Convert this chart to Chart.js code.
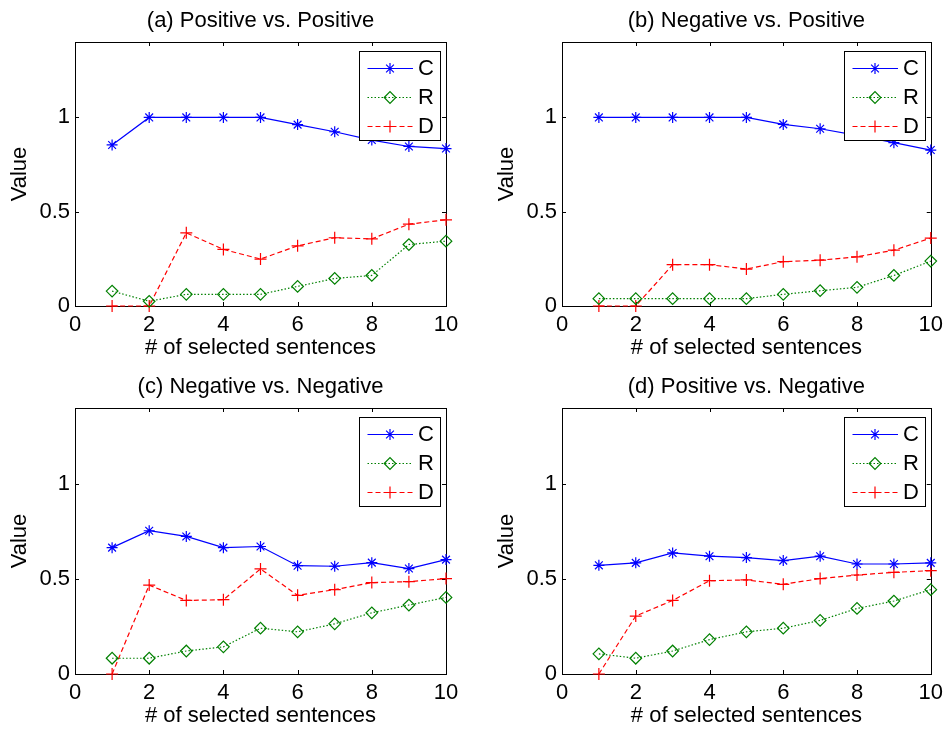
<!DOCTYPE html>
<html>
<head>
<meta charset="utf-8">
<script src="https://cdn.jsdelivr.net/npm/chart.js@4.4.1/dist/chart.umd.min.js"></script>
<style>
  html, body { margin: 0; padding: 0; background: #fff; }
  body { width: 949px; height: 733px; position: relative; overflow: hidden; }
  canvas { position: absolute; }
</style>
</head>
<body>
<canvas id="ca"></canvas>
<canvas id="cb"></canvas>
<canvas id="cc"></canvas>
<canvas id="cd"></canvas>
<script>
// ---------------- data ----------------
const sentences = [1, 2, 3, 4, 5, 6, 7, 8, 9, 10];
const seriesLabels = ['C', 'R', 'D'];
const xTickValues = [0, 2, 4, 6, 8, 10];
const yTickValues = [0, 0.5, 1];
const yTickLabels = ['0', '0.5', '1'];
const xAxisTitle = '# of selected sentences';
const yAxisTitle = 'Value';

const panelTitles = [
  '(a) Positive vs. Positive',
  '(b) Negative vs. Positive',
  '(c) Negative vs. Negative',
  '(d) Positive vs. Negative'
];

// (a) Positive vs. Positive
const posPosC = [0.854, 1.0, 1.0, 1.0, 1.0, 0.962, 0.924, 0.880, 0.846, 0.835];
const posPosR = [0.079, 0.025, 0.062, 0.062, 0.062, 0.104, 0.146, 0.162, 0.326, 0.344];
const posPosD = [0.0, 0.0, 0.388, 0.300, 0.249, 0.319, 0.362, 0.356, 0.434, 0.457];
// (b) Negative vs. Positive
const negPosC = [1.0, 1.0, 1.0, 1.0, 1.0, 0.963, 0.940, 0.905, 0.866, 0.827];
const negPosR = [0.039, 0.039, 0.039, 0.039, 0.039, 0.062, 0.081, 0.099, 0.162, 0.238];
const negPosD = [0.0, 0.0, 0.219, 0.219, 0.196, 0.235, 0.243, 0.261, 0.296, 0.360];
// (c) Negative vs. Negative
const negNegC = [0.665, 0.754, 0.724, 0.665, 0.671, 0.570, 0.567, 0.586, 0.555, 0.602];
const negNegR = [0.083, 0.083, 0.121, 0.143, 0.241, 0.222, 0.264, 0.322, 0.363, 0.403];
const negNegD = [0.0, 0.468, 0.387, 0.391, 0.553, 0.414, 0.444, 0.481, 0.486, 0.502];
// (d) Positive vs. Negative
const posNegC = [0.572, 0.585, 0.637, 0.620, 0.613, 0.597, 0.620, 0.579, 0.579, 0.585];
const posNegR = [0.106, 0.083, 0.121, 0.181, 0.222, 0.241, 0.282, 0.345, 0.384, 0.444];
const posNegD = [0.0, 0.305, 0.387, 0.491, 0.495, 0.472, 0.502, 0.521, 0.535, 0.544];

// ---------------- styling / layout ----------------
const FONT = "'Liberation Sans', Arial, Helvetica, sans-serif";
const FS = 22;
Chart.defaults.font.family = FONT;
Chart.defaults.font.size = FS;
Chart.defaults.color = '#000';

const seriesStyles = [
  { color: '#0000ff', dash: [], pointStyle: 'star', radius: 5.5 },
  { color: '#008000', dash: [1.5, 2], pointStyle: 'rectRot', radius: 5.8 },
  { color: '#ff0000', dash: [5, 3], pointStyle: 'cross', radius: 6 }
];

// plot-area rectangles (page px) : left, top, right, bottom
const panels = [
  { id: 'ca', L: 75,  T: 42,  R: 446, B: 306, data: [posPosC, posPosR, posPosD] },
  { id: 'cb', L: 562, T: 42,  R: 933, B: 306, data: [negPosC, negPosR, negPosD] },
  { id: 'cc', L: 75,  T: 408, R: 446, B: 674, data: [negNegC, negNegR, negNegD] },
  { id: 'cd', L: 562, T: 408, R: 933, B: 674, data: [posNegC, posNegR, posNegD] }
];
const YAXIS_W = 75, TITLE_H = 42, XAXIS_H = 56;

const framePlugin = {
  id: 'frame',
  beforeDatasetsDraw(chart) {
    const ctx = chart.ctx;
    const a = chart.chartArea;
    const xs = chart.scales.x, ys = chart.scales.y;
    ctx.save();
    ctx.strokeStyle = '#000';
    ctx.lineWidth = 1;
    ctx.strokeRect(Math.round(a.left) + 0.5, Math.round(a.top) + 0.5,
                   Math.round(a.right - a.left), Math.round(a.bottom - a.top));
    const tl = 4;
    ctx.beginPath();
    xs.ticks.forEach(t => {
      const x = Math.round(xs.getPixelForValue(t.value)) + 0.5;
      ctx.moveTo(x, a.bottom); ctx.lineTo(x, a.bottom - tl);
      ctx.moveTo(x, a.top); ctx.lineTo(x, a.top + tl);
    });
    ys.ticks.forEach(t => {
      const y = Math.round(ys.getPixelForValue(t.value)) + 0.5;
      ctx.moveTo(a.left, y); ctx.lineTo(a.left + tl, y);
      ctx.moveTo(a.right, y); ctx.lineTo(a.right - tl, y);
    });
    ctx.stroke();
    ctx.restore();
  },
  afterDatasetsDraw(chart) {
    const ctx = chart.ctx;
    const a = chart.chartArea;
    const bx = Math.round(a.right - 87), by = Math.round(a.top + 9), bw = 81, bh = 89;
    ctx.save();
    ctx.fillStyle = '#fff';
    ctx.fillRect(bx, by, bw, bh);
    ctx.strokeStyle = '#000';
    ctx.lineWidth = 1;
    ctx.strokeRect(bx + 0.5, by + 0.5, bw, bh);
    const rowY = [17, 46, 75];
    chart.data.datasets.forEach((ds, i) => {
      const y = by + rowY[i] + 0.5;
      ctx.save();
      ctx.strokeStyle = ds.borderColor;
      ctx.lineWidth = ds.borderWidth;
      ctx.setLineDash(ds.borderDash);
      ctx.beginPath();
      ctx.moveTo(bx + 8.5, y); ctx.lineTo(bx + 54, y);
      ctx.stroke();
      ctx.setLineDash([]);
      ctx.fillStyle = 'rgba(0,0,0,0)';
      ctx.lineWidth = ds.pointBorderWidth;
      Chart.helpers.drawPoint(ctx, { pointStyle: ds.pointStyle, radius: ds.pointRadius, borderWidth: ds.pointBorderWidth, rotation: 0 }, bx + 31, y);
      ctx.restore();
      ctx.fillStyle = '#000';
      ctx.font = FS + 'px ' + FONT;
      ctx.textBaseline = 'middle';
      ctx.textAlign = 'left';
      ctx.fillText(ds.label, bx + 59, y);
    });
    ctx.restore();
  }
};

panels.forEach((p, idx) => {
  const cv = document.getElementById(p.id);
  const cl = p.L - YAXIS_W, ct = p.T - TITLE_H;
  const cw = (p.L < 300 ? 474 : 949) - cl;
  const ch = p.B + XAXIS_H - ct;
  cv.style.left = cl + 'px'; cv.style.top = ct + 'px';
  cv.width = cw; cv.height = ch;
  cv.style.width = cw + 'px'; cv.style.height = ch + 'px';
  const rightPad = cl + cw - p.R;

  const datasets = p.data.map((arr, i) => {
    const s = seriesStyles[i];
    return {
      label: seriesLabels[i],
      data: sentences.map((x, k) => ({ x: x, y: arr[k] })),
      borderColor: s.color,
      backgroundColor: 'rgba(0,0,0,0)',
      borderWidth: 1.2,
      borderDash: s.dash,
      pointStyle: s.pointStyle,
      pointRadius: s.radius,
      pointBorderColor: s.color,
      pointBackgroundColor: 'rgba(0,0,0,0)',
      pointBorderWidth: 1.2,
      tension: 0,
      fill: false,
      clip: false
    };
  });

  new Chart(cv, {
    type: 'line',
    data: { datasets: datasets },
    options: {
      responsive: false,
      animation: false,
      devicePixelRatio: 1,
      layout: { padding: { left: 0, top: 0, right: rightPad, bottom: 0 } },
      plugins: {
        legend: { display: false },
        tooltip: { enabled: false },
        title: {
          display: true,
          text: panelTitles[idx],
          fullSize: false,
          color: '#000',
          font: { size: FS, weight: 'normal', family: FONT },
          padding: { top: 7.8, bottom: 7.8 }
        }
      },
      scales: {
        x: {
          type: 'linear',
          min: 0, max: 10,
          afterBuildTicks: s => { s.ticks = xTickValues.map(v => ({ value: v })); },
          afterFit: s => { s.height = XAXIS_H; },
          grid: { display: false, drawTicks: false },
          border: { display: false },
          ticks: { padding: 6, color: '#000', font: { size: FS }, maxRotation: 0, autoSkip: false },
          title: { display: true, text: xAxisTitle, color: '#000', font: { size: FS }, padding: { top: 0, bottom: 1.3 } }
        },
        y: {
          type: 'linear',
          min: 0, max: 1.4,
          afterBuildTicks: s => { s.ticks = yTickValues.map(v => ({ value: v })); },
          afterFit: s => { s.width = YAXIS_W; },
          grid: { display: false, drawTicks: false },
          border: { display: false },
          ticks: {
            padding: 5, color: '#000', font: { size: FS }, autoSkip: false,
            callback: (v) => { const k = yTickValues.indexOf(v); return k >= 0 ? yTickLabels[k] : ''; }
          },
          title: { display: true, text: yAxisTitle, color: '#000', font: { size: FS }, padding: { top: 6.8, bottom: 0 } }
        }
      }
    },
    plugins: [framePlugin]
  });
});
</script>
</body>
</html>
